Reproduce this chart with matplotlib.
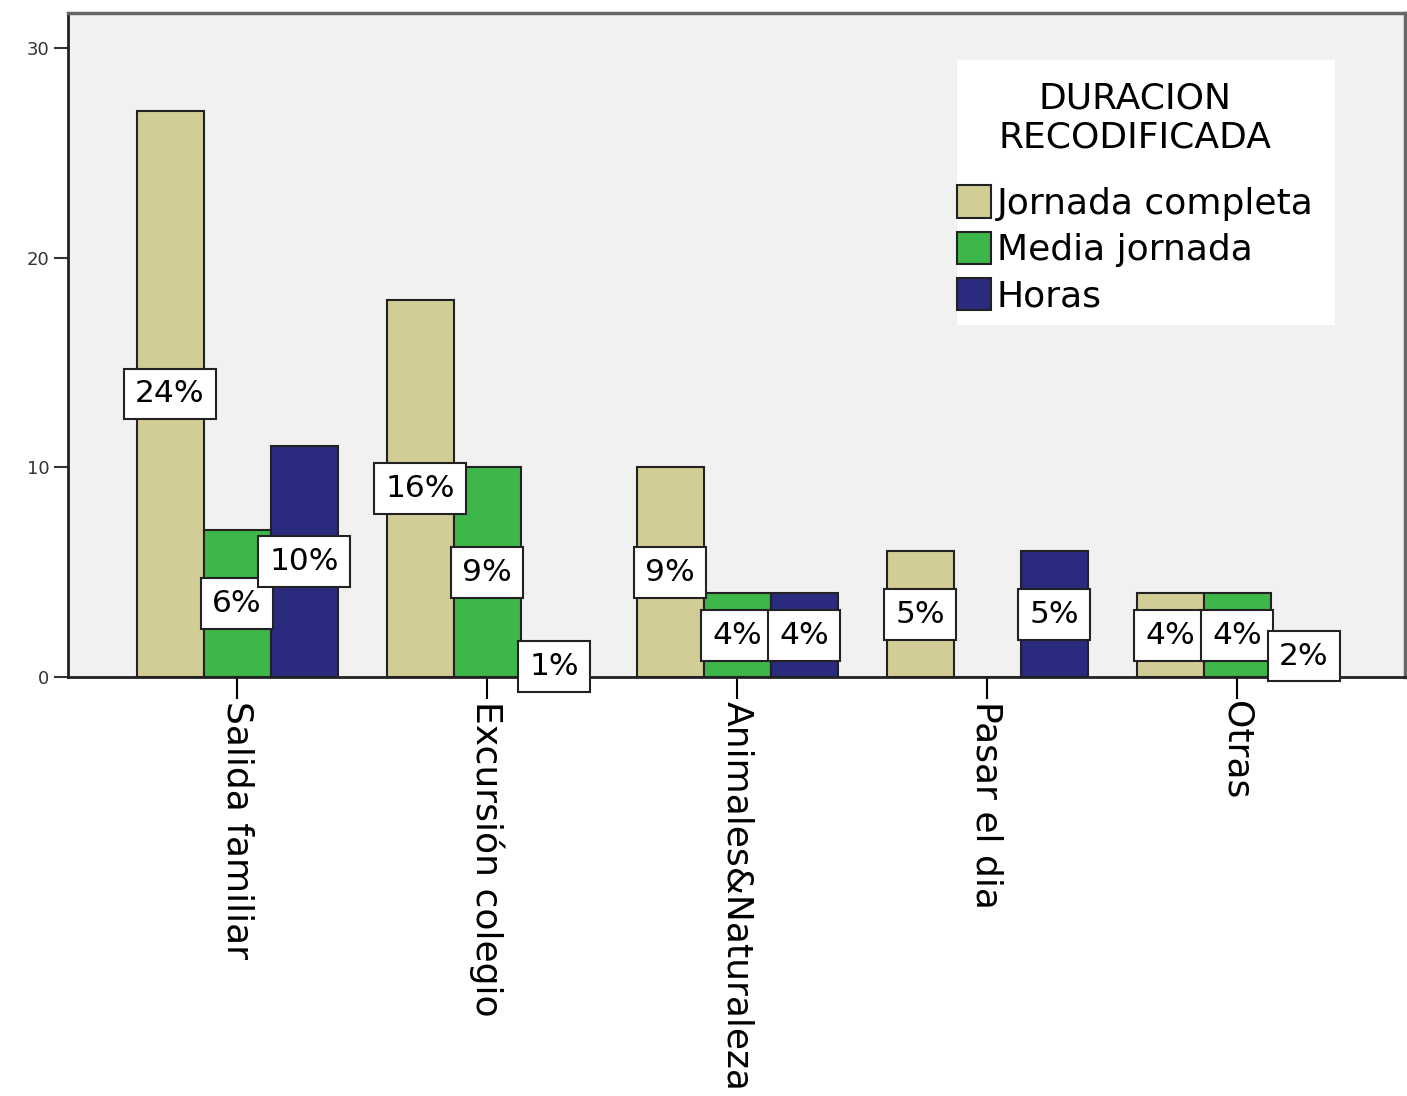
import matplotlib.pyplot as plt
import matplotlib.patches as mpatches
import numpy as np

categorias = ['Salida familiar', 'Excursión colegio', 'Animales&Naturaleza', 'Pasar el dia', 'Otras']
series = ['Jornada completa', 'Media jornada', 'Horas']
jornada_completa = [27, 18, 10, 6, 4]
media_jornada = [7, 10, 4, 0, 4]
horas = [11, 1, 4, 6, 2]
porcentajes = [
    ['24%', '16%', '9%', '5%', '4%'],
    ['6%', '9%', '4%', '', '4%'],
    ['10%', '1%', '4%', '5%', '2%'],
]

colores = ['#d2cc96', '#3db64a', '#2a2b7e']

fig = plt.figure(figsize=(14.07, 10.96), dpi=100)
ax = fig.add_axes([68 / 1407, 1 - 677 / 1096, 1337 / 1407, 664 / 1096])
ax.set_facecolor('#f1f1f1')

x = np.arange(len(categorias))
width = 0.268
valores = [jornada_completa, media_jornada, horas]

for i, (vals, color, nombre) in enumerate(zip(valores, colores, series)):
    pos = x + (i - 1) * width
    ax.bar(pos, vals, width, color=color, edgecolor='#222222', linewidth=1.5,
           label=nombre, zorder=2)
    for xp, v, txt in zip(pos, vals, porcentajes[i]):
        if not txt:
            continue
        ax.text(xp, v / 2, txt, ha='center', va='center', fontsize=22.5, zorder=4,
                bbox=dict(boxstyle='square,pad=0.35', facecolor='white',
                          edgecolor='#222222', linewidth=1.5))

ax.set_xlim(-0.676, 4.672)
ax.set_ylim(0, 31.67)
ax.set_yticks([0, 10, 20, 30])
ax.tick_params(axis='y', labelsize=13, length=10, width=1.5, colors='#333333')
ax.set_xticks(x)
ax.set_xticklabels(categorias, rotation=-90, fontsize=26, va='top', ha='center')
ax.tick_params(axis='x', length=16, width=1.5, pad=1)

for lado in ['left', 'bottom']:
    ax.spines[lado].set_linewidth(2)
    ax.spines[lado].set_color('#222222')
for lado in ['top', 'right']:
    ax.spines[lado].set_linewidth(2.5)
    ax.spines[lado].set_color('#666666')

# fondo blanco de la leyenda
ax.add_patch(mpatches.Rectangle((0.6649, 0.5301), 0.2827, 0.3991, transform=ax.transAxes,
                                facecolor='white', edgecolor='none', zorder=5))

leg = ax.legend(title='DURACION\nRECODIFICADA', loc='upper left',
                bbox_to_anchor=(0.6649, 0.897), fontsize=26, title_fontsize=26,
                frameon=False, handlelength=0.95, handleheight=1.0,
                handletextpad=0.15, labelspacing=0.3, borderpad=0, borderaxespad=0)
leg.set_zorder(6)
leg.get_title().set_multialignment('center')
leg._legend_box.sep = 22

plt.savefig('out.png', dpi=100)
